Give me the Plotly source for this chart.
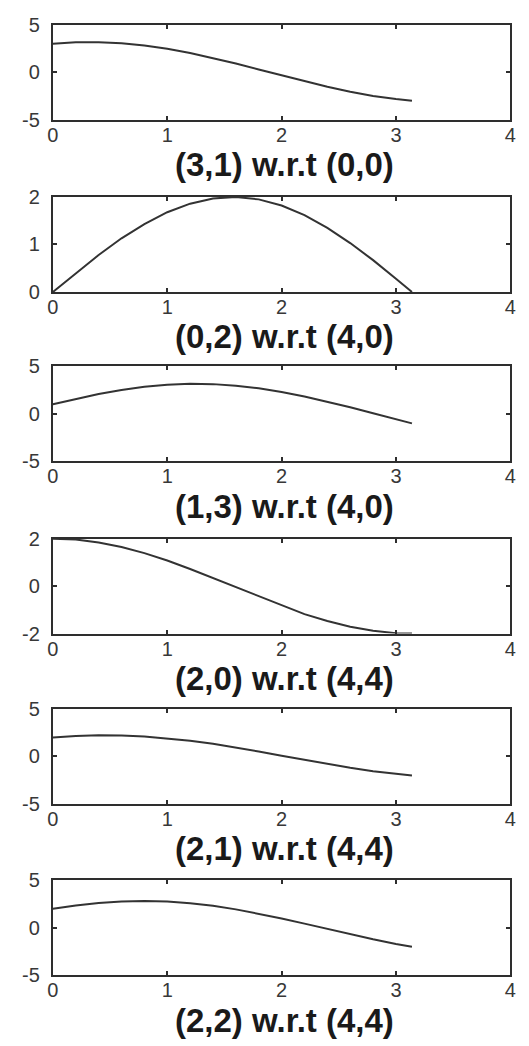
import plotly.graph_objects as go

W, H = 529, 1046

x_vals = [0, 0.2, 0.4, 0.6, 0.8, 1.0, 1.2, 1.4, 1.6, 1.8, 2.0, 2.2, 2.4, 2.6, 2.8, 3.0, 3.14]

y_31_00 = [3.0, 3.14, 3.15, 3.04, 2.81, 2.46, 2.02, 1.50, 0.91, 0.29, -0.34, -0.96, -1.53, -2.05, -2.50, -2.83, -3.0]
y_02_40 = [0.0, 0.40, 0.78, 1.13, 1.43, 1.68, 1.86, 1.97, 2.0, 1.95, 1.82, 1.62, 1.35, 1.03, 0.67, 0.28, 0.0]
y_13_40 = [1.0, 1.58, 2.09, 2.52, 2.85, 3.06, 3.16, 3.13, 2.97, 2.69, 2.31, 1.83, 1.29, 0.69, 0.06, -0.57, -1.0]
y_20_44 = [2.0, 1.96, 1.84, 1.65, 1.39, 1.08, 0.72, 0.34, -0.06, -0.45, -0.83, -1.18, -1.47, -1.71, -1.88, -1.98, -2.0]
y_21_44 = [2.0, 2.16, 2.23, 2.21, 2.11, 1.92, 1.65, 1.33, 0.94, 0.52, 0.08, -0.37, -0.79, -1.19, -1.55, -1.84, -2.0]
y_22_44 = [2.0, 2.36, 2.62, 2.78, 2.82, 2.76, 2.58, 2.31, 1.94, 1.50, 0.99, 0.44, -0.12, -0.68, -1.21, -1.70, -2.0]

titles = ["(3,1) w.r.t (0,0)", "(0,2) w.r.t (4,0)", "(1,3) w.r.t (4,0)",
          "(2,0) w.r.t (4,4)", "(2,1) w.r.t (4,4)", "(2,2) w.r.t (4,4)"]
series = [y_31_00, y_02_40, y_13_40, y_20_44, y_21_44, y_22_44]
y_ticks = [[-5, 0, 5], [0, 1, 2], [-5, 0, 5], [-2, 0, 2], [-5, 0, 5], [-5, 0, 5]]
x_ticks = [0, 1, 2, 3, 4]

# layout (pixels)
box_left, box_right = 48, 516
box_tops = [14, 190, 363, 539, 713, 888]
box_h = 97
title_gap = 46


def py(p):
    return 1 - p / H


def px(p):
    return p / W


fig = go.Figure()
line_col = "#2e2e2e"
font_fam = "Liberation Sans, Arial, sans-serif"

for i in range(6):
    n = "" if i == 0 else str(i + 1)
    top = box_tops[i]
    bot = top + box_h
    fig.add_trace(go.Scatter(x=x_vals, y=series[i], mode="lines",
                             line=dict(color="#333333", width=2),
                             xaxis="x" + n, yaxis="y" + n, showlegend=False))
    axcommon = dict(showline=True, linewidth=2, linecolor=line_col, mirror="ticks",
                    ticks="inside", ticklen=4, tickwidth=1.5, tickcolor=line_col,
                    showgrid=False, zeroline=False,
                    tickfont=dict(family=font_fam, size=20, color="#383838"))
    yt = y_ticks[i]
    fig.update_layout(**{
        "xaxis" + n: dict(domain=[px(box_left), px(box_right)],
                          range=[x_ticks[0], x_ticks[-1]],
                          tickvals=x_ticks, ticktext=[str(v) for v in x_ticks],
                          anchor="y" + n, ticklabelstandoff=-4, **axcommon),
        "yaxis" + n: dict(domain=[py(bot), py(top)], range=[yt[0], yt[-1]],
                          tickvals=yt, ticktext=[str(v) for v in yt],
                          anchor="x" + n, ticklabelstandoff=7, **axcommon),
    })
    fig.add_annotation(text="<b>" + titles[i] + "</b>", xref="paper", yref="paper",
                       x=px(285), y=py(bot + title_gap), xanchor="center", yanchor="middle",
                       showarrow=False, font=dict(family=font_fam, size=33, color="#1a1a1a"))

fig.update_layout(width=W, height=H, margin=dict(l=0, r=0, t=0, b=0),
                  plot_bgcolor="white", paper_bgcolor="white")

fig.write_html("out.html")
